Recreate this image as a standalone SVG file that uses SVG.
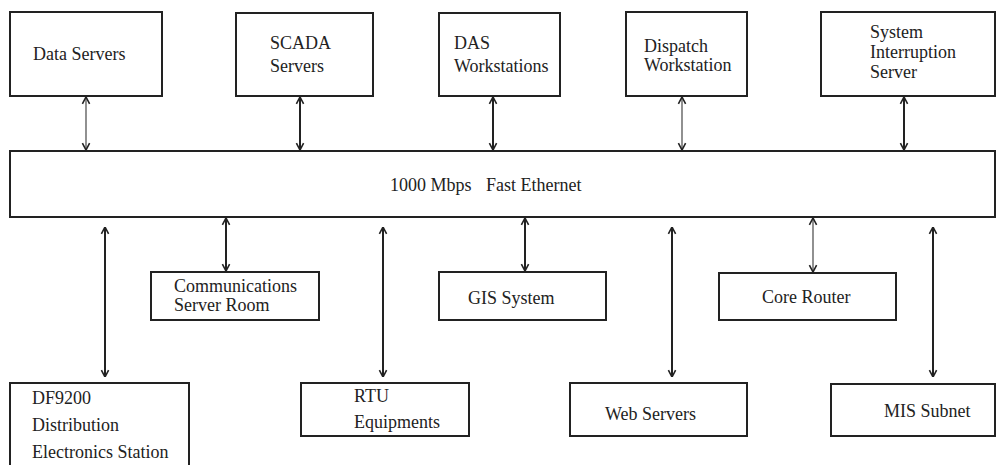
<svg xmlns="http://www.w3.org/2000/svg" width="997" height="465" viewBox="0 0 997 465">
<defs>
<style>
.box{fill:#fff;stroke:#222;stroke-width:2}
.t{font-family:"Liberation Serif","Times New Roman","DejaVu Serif",serif;font-size:18px;fill:#222}
.c{fill:none;stroke:#222;stroke-width:2}
.c2{fill:none;stroke:#555;stroke-width:1.3}
</style>
<marker id="a" viewBox="0 0 10 10" refX="9.5" refY="5" markerWidth="8" markerHeight="10" markerUnits="userSpaceOnUse" orient="auto-start-reverse">
<path d="M1,0.5 L9.5,5 L1,9.5" fill="none" stroke="#222" stroke-width="2"/>
</marker>
</defs>
<rect width="997" height="465" fill="#fff"/>
<g id="data-servers"><rect class="box" x="10" y="12" width="152" height="84"/><text class="t" x="33" y="60">Data Servers</text></g>
<g id="scada"><rect class="box" x="236" y="13" width="137" height="83"/><text class="t" x="270" y="49">SCADA</text><text class="t" x="270" y="72">Servers</text></g>
<g id="das"><rect class="box" x="439" y="13" width="121" height="83"/><text class="t" x="454" y="49">DAS</text><text class="t" x="454" y="72">Workstations</text></g>
<g id="dispatch"><rect class="box" x="626" y="12" width="121" height="84"/><text class="t" x="644" y="52">Dispatch</text><text class="t" x="644" y="71">Workstation</text></g>
<g id="sysint"><rect class="box" x="821" y="12" width="174" height="84"/><text class="t" x="870" y="38">System</text><text class="t" x="870" y="58">Interruption</text><text class="t" x="870" y="78">Server</text></g>
<g id="ethernet"><rect class="box" x="10" y="151" width="985" height="66"/><text class="t" x="390" y="191">1000 Mbps</text><text class="t" x="486" y="191">Fast Ethernet</text></g>
<g id="comm"><rect class="box" x="151" y="272" width="168" height="48"/><text class="t" x="174" y="292">Communications</text><text class="t" x="174" y="311">Server Room</text></g>
<g id="gis"><rect class="box" x="439" y="272" width="167" height="48"/><text class="t" x="468" y="304">GIS System</text></g>
<g id="core"><rect class="box" x="719" y="273" width="177" height="47"/><text class="t" x="762" y="303">Core Router</text></g>
<g id="df9200"><rect class="box" x="10" y="383" width="179" height="90"/><text class="t" x="32" y="404">DF9200</text><text class="t" x="32" y="431">Distribution</text><text class="t" x="32" y="458">Electronics Station</text></g>
<g id="rtu"><rect class="box" x="301" y="383" width="168" height="53"/><text class="t" x="354" y="402">RTU</text><text class="t" x="354" y="428">Equipments</text></g>
<g id="web"><rect class="box" x="570" y="383" width="177" height="53"/><text class="t" x="605" y="420">Web Servers</text></g>
<g id="mis"><rect class="box" x="831" y="384" width="164" height="52"/><text class="t" x="884" y="417">MIS Subnet</text></g>
<g id="connectors">
<line class="c2" x1="86" y1="97" x2="86" y2="150" marker-start="url(#a)" marker-end="url(#a)"/>
<line class="c" x1="300" y1="97" x2="300" y2="150" marker-start="url(#a)" marker-end="url(#a)"/>
<line class="c" x1="493" y1="97" x2="493" y2="150" marker-start="url(#a)" marker-end="url(#a)"/>
<line class="c2" x1="682" y1="97" x2="682" y2="150" marker-start="url(#a)" marker-end="url(#a)"/>
<line class="c" x1="904" y1="97" x2="904" y2="150" marker-start="url(#a)" marker-end="url(#a)"/>
<line class="c" x1="226" y1="218" x2="226" y2="271" marker-start="url(#a)" marker-end="url(#a)"/>
<line class="c" x1="525" y1="218" x2="525" y2="271" marker-start="url(#a)" marker-end="url(#a)"/>
<line class="c2" x1="813" y1="218" x2="813" y2="272" marker-start="url(#a)" marker-end="url(#a)"/>
<line class="c" x1="105" y1="227" x2="105" y2="377" marker-start="url(#a)" marker-end="url(#a)"/>
<line class="c" x1="383" y1="227" x2="383" y2="377" marker-start="url(#a)" marker-end="url(#a)"/>
<line class="c" x1="672" y1="227" x2="672" y2="377" marker-start="url(#a)" marker-end="url(#a)"/>
<line class="c" x1="933" y1="227" x2="933" y2="377" marker-start="url(#a)" marker-end="url(#a)"/>
</g>
</svg>
